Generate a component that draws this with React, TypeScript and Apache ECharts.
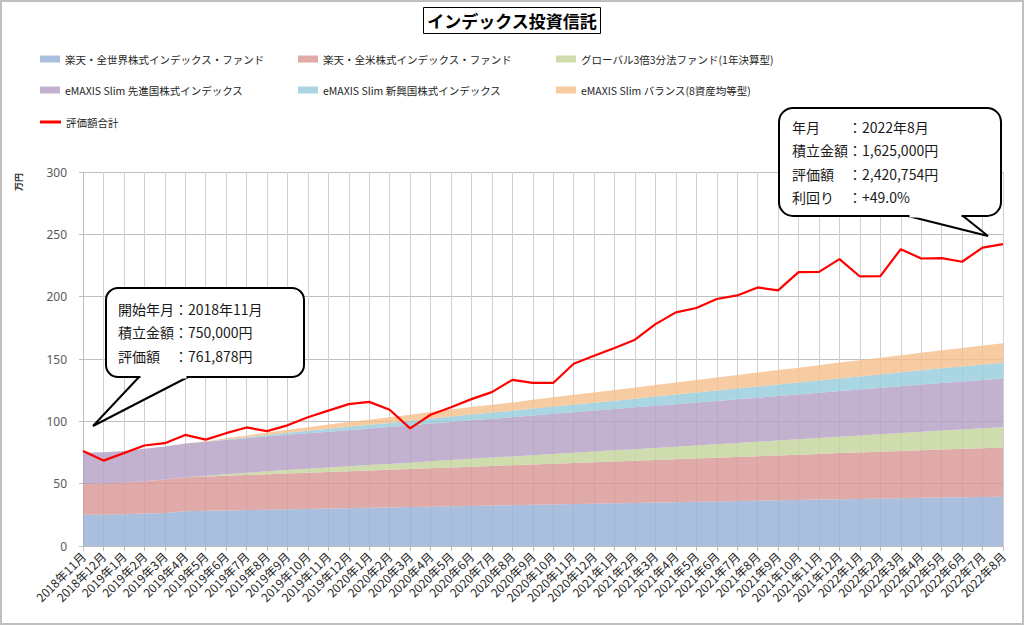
import React, { useEffect, useRef } from "react";
import * as echarts from "echarts";

const months = [
  "2018年11月", "2018年12月", "2019年1月", "2019年2月", "2019年3月", "2019年4月", "2019年5月", "2019年6月",
  "2019年7月", "2019年8月", "2019年9月", "2019年10月", "2019年11月", "2019年12月", "2020年1月", "2020年2月",
  "2020年3月", "2020年4月", "2020年5月", "2020年6月", "2020年7月", "2020年8月", "2020年9月", "2020年10月",
  "2020年11月", "2020年12月", "2021年1月", "2021年2月", "2021年3月", "2021年4月", "2021年5月", "2021年6月",
  "2021年7月", "2021年8月", "2021年9月", "2021年10月", "2021年11月", "2021年12月", "2022年1月", "2022年2月",
  "2022年3月", "2022年4月", "2022年5月", "2022年6月", "2022年7月", "2022年8月",
];

const fundNames = [
  "楽天・全世界株式インデックス・ファンド",
  "楽天・全米株式インデックス・ファンド",
  "グローバル3倍3分法ファンド(1年決算型)",
  "eMAXIS Slim 先進国株式インデックス",
  "eMAXIS Slim 新興国株式インデックス",
  "eMAXIS Slim バランス(8資産均等型)",
];
const totalName = "評価額合計";

// invested principal per fund (万円)
const zenSekai = [
  25.0, 25.1, 25.5, 26.0, 26.5, 27.9, 28.2, 28.5, 28.8, 29.1,
  29.4, 29.7, 30.0, 30.3, 30.6, 30.9, 31.2, 31.5, 31.8, 32.1,
  32.4, 32.7, 33.0, 33.3, 33.6, 33.9, 34.2, 34.5, 34.8, 35.1,
  35.4, 35.7, 36.0, 36.3, 36.6, 36.9, 37.2, 37.5, 37.8, 38.1,
  38.4, 38.7, 39.0, 39.2, 39.4, 39.6,
];
const zenBei = [
  25.0, 25.0, 25.2, 25.9, 26.8, 27.2, 27.5, 27.8, 28.1, 28.4,
  28.7, 29.0, 29.3, 29.6, 29.9, 30.2, 30.5, 30.9, 31.2, 31.5,
  31.8, 32.1, 32.4, 32.7, 33.0, 33.3, 33.6, 33.9, 34.2, 34.5,
  34.8, 35.1, 35.4, 35.7, 36.0, 36.3, 36.6, 37.0, 37.3, 37.6,
  37.9, 38.2, 38.5, 38.8, 39.1, 39.4,
];
const global3 = [
  0, 0, 0, 0, 0, 0, 0.6, 1.2, 1.8, 2.4,
  2.9, 3.3, 3.6, 4.0, 4.4, 4.7, 5.1, 5.5, 5.9, 6.3,
  6.7, 7.0, 7.4, 7.8, 8.2, 8.6, 9.0, 9.3, 9.7, 10.1,
  10.5, 10.9, 11.3, 11.6, 12.0, 12.4, 12.8, 13.2, 13.6, 13.9,
  14.3, 14.7, 15.1, 15.5, 15.9, 16.2,
];
const senshin = [
  25.0, 25.2, 25.5, 26.2, 26.6, 27.2, 27.4, 27.6, 27.8, 28.0,
  28.2, 28.4, 28.7, 29.0, 29.3, 29.6, 30.0, 30.3, 30.6, 30.9,
  31.2, 31.5, 31.9, 32.2, 32.5, 32.8, 33.1, 33.5, 33.8, 34.1,
  34.4, 34.7, 35.0, 35.4, 35.7, 36.0, 36.3, 36.6, 36.9, 37.3,
  37.6, 37.9, 38.2, 38.5, 38.8, 39.1,
];
const shinko = [
  0, 0, 0, 0, 0, 0, 0, 0.4, 0.8, 1.2,
  1.6, 2.0, 2.4, 2.7, 3.0, 3.3, 3.6, 3.9, 4.3, 4.6,
  4.9, 5.2, 5.5, 5.8, 6.1, 6.4, 6.7, 7.0, 7.4, 7.7,
  8.0, 8.3, 8.6, 8.9, 9.2, 9.5, 9.8, 10.1, 10.4, 10.7,
  11.1, 11.4, 11.7, 12.0, 12.3, 12.6,
];
const balance = [
  0, 0, 0, 0, 0, 0, 0.4, 0.9, 1.4, 1.9,
  2.4, 2.9, 3.4, 3.8, 4.1, 4.5, 4.9, 5.3, 5.6, 6.0,
  6.4, 6.7, 7.1, 7.5, 7.9, 8.2, 8.6, 9.0, 9.3, 9.7,
  10.1, 10.4, 10.8, 11.2, 11.6, 11.9, 12.3, 12.7, 13.0, 13.4,
  13.8, 14.2, 14.5, 14.9, 15.3, 15.7,
];
// total valuation (万円)
const evalTotal = [
  76.2, 68.5, 74.5, 80.6, 82.5, 89.1, 85.3, 90.5, 95.1, 92.1,
  96.8, 103.3, 108.6, 113.8, 115.6, 109.3, 94.4, 105.3, 111.3, 117.8,
  123.4, 133.3, 130.8, 130.8, 146.2, 152.6, 158.8, 165.5, 178.0, 187.4,
  190.9, 198.1, 201.0, 207.4, 205.0, 219.7, 219.9, 230.1, 216.2, 216.5,
  238.1, 230.6, 230.9, 228.0, 239.4, 242.1,
];

const fundData = [zenSekai, zenBei, global3, senshin, shinko, balance];
const baseColors = ["#95AFD6", "#D89593", "#C3D59A", "#B39FC4", "#94CCDB", "#F6BF8C"];
const legendColors = ["#AABFDE", "#E0AAA9", "#CFDDAE", "#C2B2D0", "#A9D6E2", "#F8CCA3"];

const yTicks = [0, 50, 100, 150, 200, 250, 300];

const bubbleStart = [
  ["開始年月", "：2018年11月"],
  ["積立金額", "：750,000円"],
  ["評価額", "：761,878円"],
];
const bubbleEnd = [
  ["年月", "：2022年8月"],
  ["積立金額", "：1,625,000円"],
  ["評価額", "：2,420,754円"],
  ["利回り", "：+49.0%"],
];

const JP = "'Noto Sans CJK JP', 'Noto Sans', sans-serif";

function bubble(
  rect: { x: number; y: number; w: number; h: number; r: number },
  tail: number[][],
  lines: string[][],
  textX: number,
  firstY: number,
  gap: number
) {
  const els: any[] = [];
  els.push({
    type: "polygon",
    z: 100,
    shape: { points: tail },
    style: { fill: "#fff", stroke: "#000", lineWidth: 2 },
    silent: true,
  });
  els.push({
    type: "rect",
    z: 101,
    shape: { x: rect.x, y: rect.y, width: rect.w, height: rect.h, r: rect.r },
    style: { fill: "#fff", stroke: "#000", lineWidth: 2 },
    silent: true,
  });
  els.push({
    type: "line",
    z: 102,
    shape: { x1: tail[0][0] + 1.5, y1: tail[0][1], x2: tail[2][0] - 1.5, y2: tail[2][1] },
    style: { stroke: "#fff", lineWidth: 3 },
    silent: true,
  });
  lines.forEach((ln, i) => {
    const y = firstY + i * gap;
    els.push({
      type: "text",
      z: 103,
      x: textX,
      y,
      style: {
        text: ln[0], fontSize: 14, fontFamily: JP, fill: "#1a1a1a",
        align: "left", textAlign: "left", verticalAlign: "middle", textVerticalAlign: "middle",
      },
    });
    els.push({
      type: "text",
      z: 103,
      x: textX + 56,
      y,
      style: {
        text: ln[1], fontSize: 14, fontFamily: JP, fill: "#1a1a1a",
        align: "left", textAlign: "left", verticalAlign: "middle", textVerticalAlign: "middle",
      },
    });
  });
  return els;
}

export default function App() {
  const ref = useRef<HTMLDivElement>(null);
  useEffect(() => {
    if (!ref.current) return;
    const chart = echarts.init(ref.current, undefined, { renderer: "svg" });
    const legendCommon = {
      orient: "vertical",
      itemWidth: 20,
      itemHeight: 7,
      itemGap: 17,
      padding: 0,
      icon: "rect",
      selectedMode: false,
      textStyle: { fontSize: 10.5, color: "#262626", lineHeight: 14, fontFamily: JP },
    };
    const li = (k: number) => ({ name: fundNames[k], itemStyle: { color: legendColors[k] } });
    const option: any = {
      animation: false,
      backgroundColor: "#fff",
      textStyle: { fontFamily: JP },
      title: {
        text: "インデックス投資信託",
        left: "center",
        top: 7,
        padding: [3, 4],
        borderColor: "#000",
        borderWidth: 1,
        textStyle: { fontSize: 17, fontWeight: "bold", color: "#000", lineHeight: 21, fontFamily: JP },
      },
      legend: [
        { ...legendCommon, left: 40, top: 52, data: [li(0), li(3)] },
        { ...legendCommon, left: 298, top: 52, data: [li(1), li(4)] },
        { ...legendCommon, left: 556, top: 52, data: [li(2), li(5)] },
        {
          ...legendCommon,
          left: 40,
          top: 115,
          itemWidth: 21,
          itemHeight: 3,
          data: [{ name: totalName, icon: "rect", itemStyle: { color: "#FF0000" } }],
        },
      ],
      grid: { left: 83, right: 21, top: 172, bottom: 79, containLabel: false },
      xAxis: {
        type: "category",
        data: months,
        boundaryGap: false,
        axisLine: { lineStyle: { color: "#BFBFBF" } },
        axisTick: { show: true, interval: 0, length: 5, lineStyle: { color: "#BFBFBF" } },
        axisLabel: { interval: 0, rotate: 45, fontSize: 12, color: "#262626", margin: 8, fontFamily: JP },
        splitLine: { show: true, interval: 0, lineStyle: { color: "#D0D0D0", width: 1 } },
      },
      yAxis: {
        type: "value",
        min: yTicks[0],
        max: yTicks[yTicks.length - 1],
        interval: yTicks[1] - yTicks[0],
        axisLine: { show: true, lineStyle: { color: "#BFBFBF" } },
        axisTick: { show: true, length: 4, lineStyle: { color: "#BFBFBF" } },
        axisLabel: { fontSize: 12, color: "#595959", margin: 16, fontFamily: "'Noto Sans', sans-serif" },
        splitLine: { show: true, lineStyle: { color: "#BFBFBF", width: 1 } },
      },
      series: [
        ...fundData.map((d, k) => ({
          name: fundNames[k],
          type: "line",
          stack: "principal",
          data: d,
          symbol: "none",
          color: baseColors[k],
          lineStyle: { width: 0, opacity: 0 },
          areaStyle: { color: baseColors[k], opacity: 0.8 },
          z: 2,
        })),
        {
          name: totalName,
          type: "line",
          data: evalTotal,
          symbol: "none",
          color: "#FF0000",
          lineStyle: { color: "#FF0000", width: 2.2 },
          z: 5,
        },
      ],
      graphic: [
        {
          type: "rect",
          z: 0,
          silent: true,
          shape: { x: 1, y: 1, width: 1022, height: 623 },
          style: { fill: "none", stroke: "#BFBFBF", lineWidth: 2 },
        },
        {
          type: "text",
          x: 18,
          y: 182,
          rotation: Math.PI / 2,
          style: {
            text: "万円", fontSize: 9, fontWeight: "bold", fontFamily: JP, fill: "#333",
            align: "center", textAlign: "center", verticalAlign: "middle", textVerticalAlign: "middle",
          },
        },
        ...bubble(
          { x: 106, y: 288, w: 198, h: 89, r: 12 },
          [[139, 377], [93, 426], [188, 377]],
          bubbleStart,
          118,
          309,
          23.3
        ),
        ...bubble(
          { x: 779, y: 108, w: 222, h: 108, r: 14 },
          [[908, 216], [988, 236], [963, 216]],
          bubbleEnd,
          792,
          127,
          23.3
        ),
      ],
    };
    chart.setOption(option);
    return () => chart.dispose();
  }, []);
  return (
    <div
      ref={ref}
      style={{ position: "fixed", left: 0, top: 0, width: 1024, height: 625, background: "#fff" }}
    />
  );
}
